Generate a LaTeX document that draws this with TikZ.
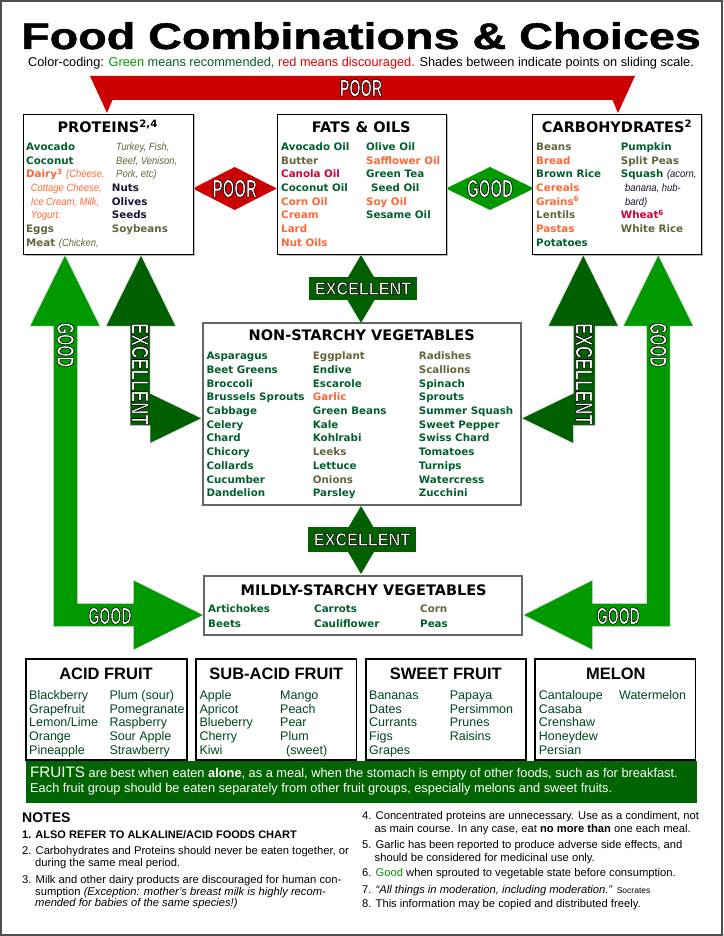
\documentclass[tikz,border=0pt]{standalone}
\usepackage{fontspec}
\setmainfont{Liberation Sans}
\newfontfamily\vfam{DejaVu Sans}
\newfontfamily\itn{Liberation Sans}[FakeStretch=0.9]
\newfontfamily\lbl{Liberation Sans Bold}[FakeStretch=0.6,FakeBold=2.5]
\newfontfamily\ttl{Liberation Sans Bold}[FakeBold=1.2]
\usetikzlibrary{shadows}
\definecolor{cG}{RGB}{0,95,45}
\definecolor{cO}{RGB}{100,100,60}
\definecolor{cR}{RGB}{255,102,51}
\definecolor{cC}{RGB}{210,0,50}
\definecolor{cK}{RGB}{20,20,50}
\definecolor{cF}{RGB}{0,70,30}
\definecolor{red1}{RGB}{204,0,0}
\definecolor{red2}{RGB}{230,0,0}
\definecolor{gr1}{RGB}{0,153,0}
\definecolor{gr2}{RGB}{0,96,0}
\definecolor{gr3}{RGB}{0,100,0}
\definecolor{framec}{RGB}{80,80,80}
\newcommand\Gx[1]{\textcolor{cG}{#1}}
\newcommand\Ox[1]{\textcolor{cO}{#1}}
\newcommand\Rx[1]{\textcolor{cR}{#1}}
\newcommand\Cx[1]{\textcolor{cC}{#1}}
\newcommand\Kx[1]{\textcolor{cK}{#1}}
\newcommand\ii{\mdseries\itn\itshape\fontsize{10.5}{12}\selectfont}
\newcommand\LB[2]{{\fontsize{#1}{#1}\lbl\color{white}\special{pdf:literal direct 0 G}#2}}
\newcommand\itemcol[5][item]{%
  \foreach \t [count=\i from 0] in {#5} {\node[#1] (#2\i) at (#3,{#4+\i*13.7}) {\t};}}
\tikzset{
  item/.style={anchor=west, inner sep=0, text height=7.5pt, text depth=0pt,
    font=\vfam\bfseries\fontsize{10.3}{12}\selectfont},
  fitem/.style={anchor=west, inner sep=0, text height=9pt, text depth=0pt,
    font=\fontsize{12.5}{14}\selectfont, text=cF},
  note/.style={anchor=west, inner sep=0, text height=7.8pt, text depth=0pt,
    font=\fontsize{11.2}{12}\selectfont},
  head/.style={inner sep=0, text height=10.5pt, text depth=0pt,
    font=\vfam\bfseries\fontsize{14.5}{16}\selectfont},
  fhead/.style={inner sep=0, text height=11.8pt, text depth=0pt,
    font=\bfseries\fontsize{16.5}{18}\selectfont},
  tbox/.style={draw=black, fill=white, line width=0.8, inner sep=0,
    drop shadow={shadow xshift=1.5pt, shadow yshift=-1.5pt, fill=gray!55, opacity=1}},
  gbox/.style={draw=gray!80!black, fill=white, line width=1.1, inner sep=0},
  fbox/.style={draw=black, fill=white, line width=1.6, inner sep=0},
  lab/.style={inner sep=0},
  bantext/.style={anchor=west, inner sep=0, text=white, text height=9pt, text depth=0pt,
    font=\fontsize{12.8}{14}\selectfont},
  arrg/.style={fill=gr1, draw=gray!25, line width=0.5},
  arrd/.style={fill=gr2, draw=gray!25, line width=0.5}
}
\begin{document}
\begin{tikzpicture}[x=1pt,y=-1pt]
\useasboundingbox (0,0) rectangle (723,936);
\fill[white] (0,0) rectangle (723,936);
\draw[framec, line width=2] (1,1) rectangle (721.5,934.5);

% title
\node[inner sep=0, text height=26pt, text depth=0pt] (title) at (361,36) {\scalebox{1.262}[1]{\fontsize{37}{38}\ttl Food Combinations \& Choices}};
\node[inner sep=0, font=\fontsize{12.75}{14}\selectfont, text height=9pt, text depth=0pt] (sub) at (361,62.5)
  {Color-coding: \textcolor{gr1}{Green} \textcolor{cG}{means recommended,} \textcolor{red2}{red means discouraged.} Shades between indicate points on sliding scale.};

% top red banner
\fill[red1] (90,76) -- (635,76) -- (618,113) -- (612.5,100) -- (112.5,100) -- (107,113) -- cycle;
\node[lab] (poor1) at (361,88) {\LB{24}{POOR}};

% arrows
\path[arrg] (65,255) -- (100,326) -- (77.7,326) -- (77.7,603.3) -- (133.3,603.3) -- (133.3,580) -- (203.3,615) -- (133.3,650) -- (133.3,626.7) -- (53.3,626.7) -- (53.3,326) -- (30,326) -- cycle;
\path[arrd] (141,255) -- (175.7,326) -- (150,326) -- (150,393.3) -- (201.7,418.3) -- (150,443.3) -- (150,425.7) -- (130,425.7) -- (130,326) -- (106,326) -- cycle;
\path[arrd] (583.3,255) -- (618.3,326) -- (595,326) -- (595,425.7) -- (573.3,425.7) -- (573.3,443.3) -- (521.7,418.3) -- (573.3,393.3) -- (573.3,326) -- (548.3,326) -- cycle;
\path[arrg] (658.3,255) -- (693.3,326) -- (670,326) -- (670,626.7) -- (592.7,626.7) -- (592.7,650) -- (523.3,615) -- (592.7,580) -- (592.7,603.3) -- (646.7,603.3) -- (646.7,326) -- (623.3,326) -- cycle;
\node[lab, rotate=-90] (lgv) at (65.5,345) {\LB{24}{GOOD}};
\node[lab, rotate=-90] (lev) at (140,374) {\scalebox{1.19}[1]{\LB{24}{EXCELLENT}}};
\node[lab, rotate=-90] (rev) at (584,374) {\scalebox{1.19}[1]{\LB{24}{EXCELLENT}}};
\node[lab, rotate=-90] (rgv) at (658.3,345) {\LB{24}{GOOD}};
\node[lab] (lgh) at (110,616) {\LB{23.5}{GOOD}};
\node[lab] (rgh) at (618.3,616) {\LB{23.5}{GOOD}};

% diamonds
\fill[red1] (192.7,188.5) -- (234.7,167) -- (276.7,188.5) -- (234.7,210) -- cycle;
\node[lab] (poor2) at (234.7,188.5) {\LB{25}{POOR}};
\fill[gr1] (446,188.5) -- (490,167) -- (534,188.5) -- (490,210) -- cycle;
\node[lab] (good1) at (490,188.5) {\LB{25}{GOOD}};
\fill[gr2] (361,255) -- (381,289) -- (361,323) -- (341,289) -- cycle;
\fill[gr2] (309,277) rectangle (417,300);
\node[lab] (exc1) at (363,288.5) {\scalebox{1.5}[1]{\LB{18}{EXCELLENT}}};
\fill[gr2] (361,506) -- (381,540) -- (361,574) -- (341,540) -- cycle;
\fill[gr2] (308,527) rectangle (416,552);
\node[lab] (exc2) at (362,539.5) {\scalebox{1.5}[1]{\LB{18}{EXCELLENT}}};

% top boxes
\node[tbox, minimum width=170, minimum height=140] (prot) at (108,184) {};
\node[tbox, minimum width=169, minimum height=140] (fats) at (361.5,184) {};
\node[tbox, minimum width=169, minimum height=140] (carb) at (616.5,184) {};
\node[head] (hprot) at (107.7,127) {PROTEINS\textsuperscript{2,4}};
\node[head] (hfats) at (361.3,127) {FATS \& OILS};
\node[head] (hcarb) at (617,127) {CARBOHYDRATES\textsuperscript{2}};
\itemcol{pa}{26}{146.7}{{\Gx{Avocado}},{\Gx{Coconut}},{\Rx{Dairy\textsuperscript{3} {\ii(Cheese,}}},{\hspace{4.7pt}\Rx{\ii Cottage Cheese,}},{\hspace{4.7pt}\Rx{\ii Ice Cream, Milk,}},{\hspace{4.7pt}\Rx{\ii Yogurt.}},{\Ox{Eggs}},{\Ox{Meat {\ii(Chicken,}}}}
\itemcol{pb}{111.7}{146.7}{{\hspace{4.3pt}\Ox{\ii Turkey, Fish,}},{\hspace{4.3pt}\Ox{\ii Beef, Venison,}},{\hspace{4.3pt}\Ox{\ii Pork, etc)}},{\Kx{Nuts}},{\Kx{Olives}},{\Kx{Seeds}},{\Ox{Soybeans}}}
\itemcol{fa}{281}{146.7}{{\Gx{Avocado Oil}},{\Ox{Butter}},{\Cx{Canola Oil}},{\Gx{Coconut Oil}},{\Rx{Corn Oil}},{\Rx{Cream}},{\Rx{Lard}},{\Rx{Nut Oils}}}
\itemcol{fb}{366}{146.7}{{\Gx{Olive Oil}},{\Rx{Safflower Oil}},{\Gx{Green Tea}},{\hspace{5pt}\Gx{Seed Oil}},{\Rx{Soy Oil}},{\Gx{Sesame Oil}}}
\itemcol{ca}{536}{146.7}{{\Ox{Beans}},{\Rx{Bread}},{\Gx{Brown Rice}},{\Rx{Cereals}},{\Rx{Grains\textsuperscript{6}}},{\Ox{Lentils}},{\Rx{Pastas}},{\Gx{Potatoes}}}
\itemcol{cb}{620.7}{146.7}{{\Gx{Pumpkin}},{\Ox{Split Peas}},{\Gx{Squash} {\ii\Kx{(acorn,}}},{\hspace{4.3pt}{\ii\Kx{banana, hub-}}},{\hspace{4.3pt}{\ii\Kx{bard)}}},{\Cx{Wheat\textsuperscript{6}}},{\Ox{White Rice}}}

% non-starchy
\node[gbox, minimum width=318, minimum height=182] (nsv) at (362,414) {};
\node[head] (hnsv) at (361.7,335.7) {NON-STARCHY VEGETABLES};
\itemcol{na}{206.3}{356}{{\Gx{Asparagus}},{\Gx{Beet Greens}},{\Gx{Broccoli}},{\Gx{Brussels Sprouts}},{\Gx{Cabbage}},{\Gx{Celery}},{\Gx{Chard}},{\Gx{Chicory}},{\Gx{Collards}},{\Gx{Cucumber}},{\Gx{Dandelion}}}
\itemcol{nb}{312.7}{356}{{\Ox{Eggplant}},{\Gx{Endive}},{\Gx{Escarole}},{\Rx{Garlic}},{\Gx{Green Beans}},{\Gx{Kale}},{\Gx{Kohlrabi}},{\Ox{Leeks}},{\Gx{Lettuce}},{\Ox{Onions}},{\Gx{Parsley}}}
\itemcol{nc}{418.7}{356}{{\Ox{Radishes}},{\Ox{Scallions}},{\Gx{Spinach}},{\Gx{Sprouts}},{\Gx{Summer Squash}},{\Gx{Sweet Pepper}},{\Gx{Swiss Chard}},{\Gx{Tomatoes}},{\Gx{Turnips}},{\Gx{Watercress}},{\Gx{Zucchini}}}

% mildly starchy
\node[gbox, minimum width=318, minimum height=59] (msv) at (363,605.5) {};
\node[head] (hmsv) at (363.7,590.7) {MILDLY-STARCHY VEGETABLES};
\node[item] (ma0) at (208,609) {\Gx{Artichokes}};
\node[item] (ma1) at (208,623.7) {\Gx{Beets}};
\node[item] (mb0) at (314,609) {\Gx{Carrots}};
\node[item] (mb1) at (314,623.7) {\Gx{Cauliflower}};
\node[item] (mc0) at (420,609) {\Ox{Corn}};
\node[item] (mc1) at (420,623.7) {\Gx{Peas}};

% fruit boxes
\node[fbox, minimum width=160.5, minimum height=101] (acid) at (106.5,709.6) {};
\node[fbox, minimum width=160.5, minimum height=101] (subacid) at (276.2,709.6) {};
\node[fbox, minimum width=160, minimum height=101] (sweet) at (445.8,709.6) {};
\node[fbox, minimum width=160.6, minimum height=101] (melon) at (615.3,709.6) {};
\node[fhead] (hacid) at (106,673.3) {ACID FRUIT};
\node[fhead] (hsub) at (276.3,673.3) {SUB-ACID FRUIT};
\node[fhead] (hsweet) at (445.8,673.3) {SWEET FRUIT};
\node[fhead] (hmelon) at (615.8,673.3) {MELON};
\itemcol[fitem]{aa}{29}{695}{Blackberry,Grapefruit,Lemon/Lime,Orange,Pineapple}
\itemcol[fitem]{ab}{109.3}{695}{Plum (sour),Pomegranate,Raspberry,Sour Apple,Strawberry}
\itemcol[fitem]{sa}{199.3}{695}{Apple,Apricot,Blueberry,Cherry,Kiwi}
\itemcol[fitem]{sb}{280}{695}{Mango,Peach,Pear,Plum,{\hspace{6pt}(sweet)}}
\itemcol[fitem]{wa}{369}{695}{Bananas,Dates,Currants,Figs,Grapes}
\itemcol[fitem]{wb}{449.7}{695}{Papaya,Persimmon,Prunes,Raisins}
\itemcol[fitem]{ma}{538.7}{695}{Cantaloupe,Casaba,Crenshaw,Honeydew,Persian}
\itemcol[fitem]{mw}{619}{695}{Watermelon}

% banner
\fill[gr3] (26.3,761) rectangle (697.4,802.5);
\node[bantext] (ban1) at (30,773.3)
  {{\fontsize{15.2}{16}\selectfont FRUITS} are best when eaten \textbf{alone}, as a meal, when the stomach is empty of other foods, such as for breakfast.};
\node[bantext] (ban2) at (30,788.3)
  {Each fruit group should be eaten separately from other fruit groups, especially melons and sweet fruits.};

% notes
\node[note, text height=10pt, font=\bfseries\fontsize{14}{16}\selectfont] (n0) at (22,817) {NOTES};
\node[note, font=\bfseries\fontsize{11}{12}\selectfont] (n1) at (22,835) {1. ALSO REFER TO ALKALINE/ACID FOODS CHART};
\node[note] (n2) at (22,851) {2. Carbohydrates and Proteins should never be eaten together, or};
\node[note] (n2b) at (35,862.5) {during the same meal period.};
\node[note] (n3) at (22,880) {3. Milk and other dairy products are discouraged for human con-};
\node[note] (n3b) at (35,891.5) {sumption \textit{(Exception: mother’s breast milk is highly recom-}};
\node[note] (n3c) at (35,903) {\textit{mended for babies of the same species!)}};
\node[note] (n4) at (362,816) {4. Concentrated proteins are unnecessary. Use as a condiment, not};
\node[note] (n4b) at (374.5,828.7) {as main course. In any case, eat \textbf{no more than} one each meal.};
\node[note] (n5) at (362,844.3) {5. Garlic has been reported to produce adverse side effects, and};
\node[note] (n5b) at (374.5,857.3) {should be considered for medicinal use only.};
\node[note] (n6) at (362,872.7) {6. \textcolor{gr1}{Good} when sprouted to vegetable state before consumption.};
\node[note] (n7) at (362,889.3) {7. \textit{“All things in moderation, including moderation.”} {\fontsize{8.5}{10}\selectfont Socrates}};
\node[note] (n8) at (362,903.3) {8. This information may be copied and distributed freely.};
\end{tikzpicture}
\end{document}
